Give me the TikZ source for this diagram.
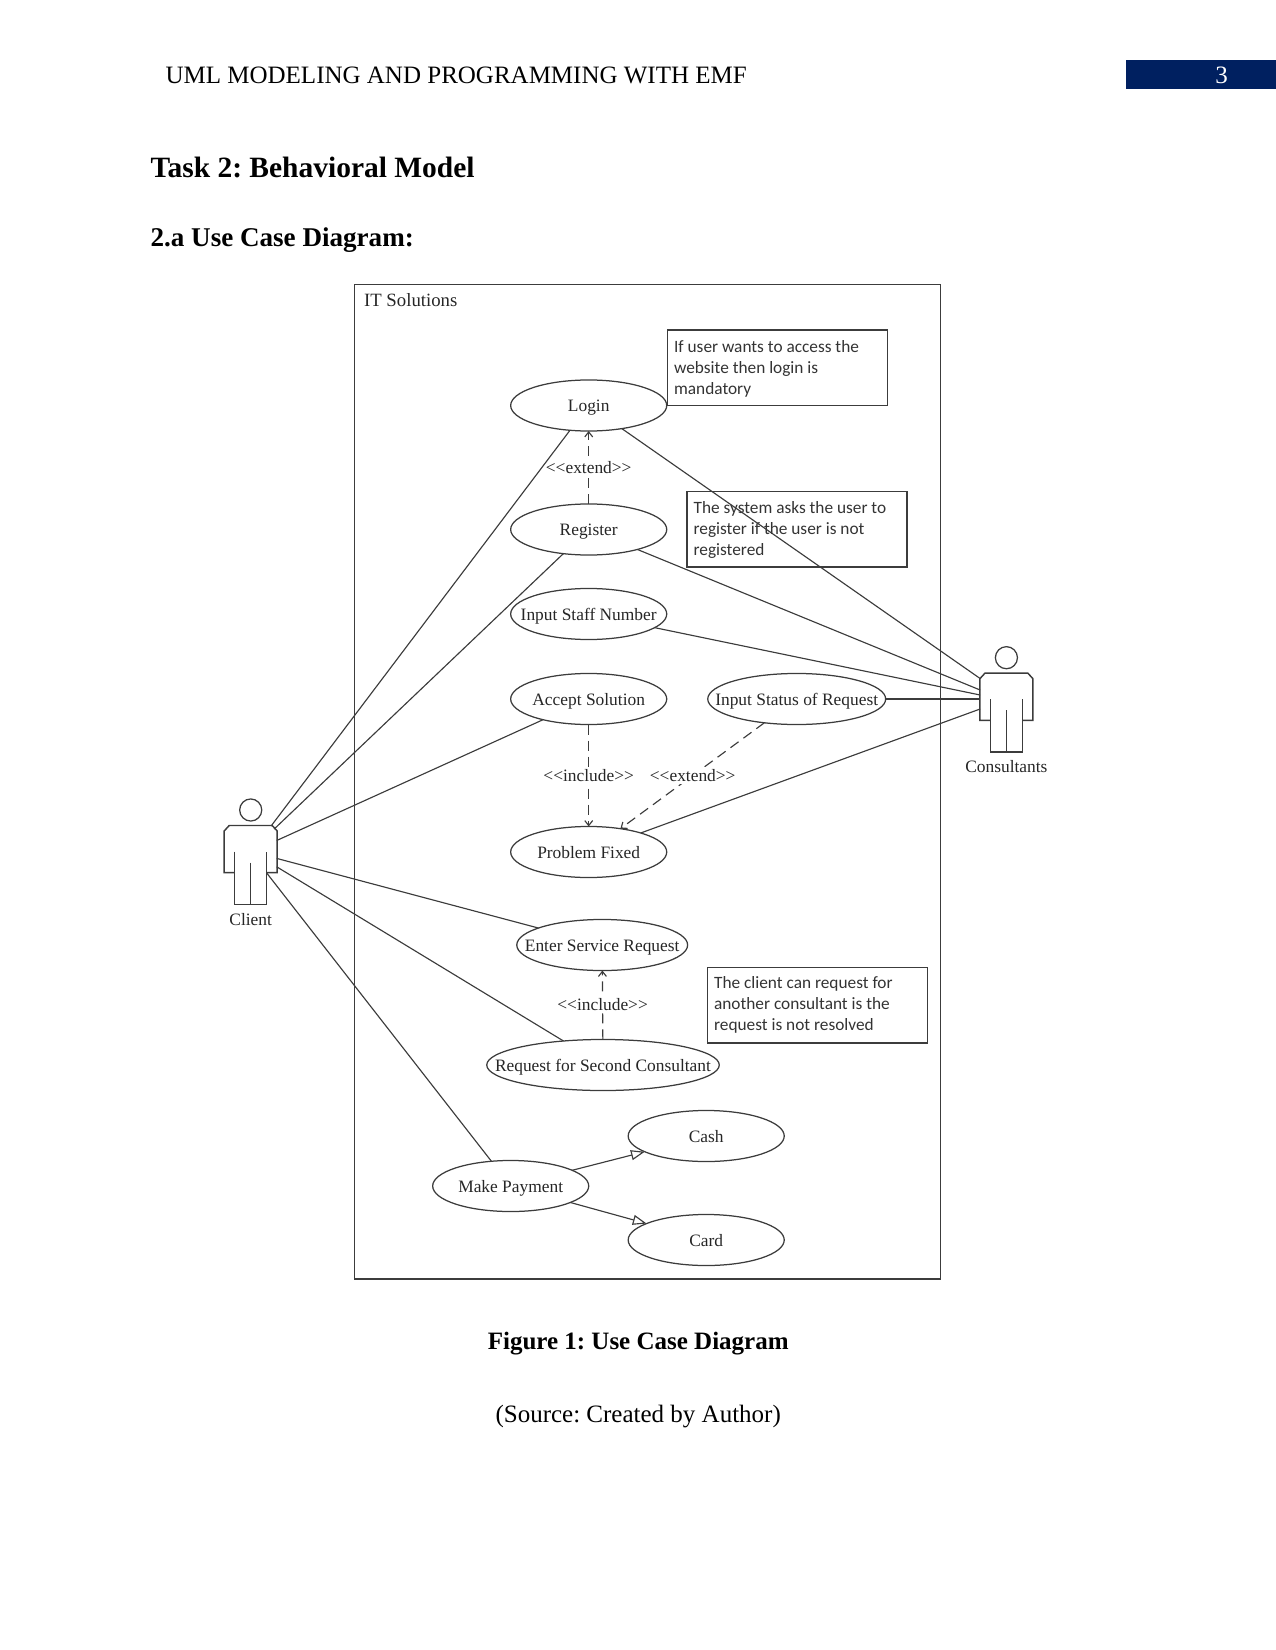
\documentclass[tikz,border=0pt]{standalone}
\usepackage{fontspec}
\setmainfont{Liberation Serif}
\newfontfamily\notefont{Carlito}
\usetikzlibrary{arrows.meta,shapes.geometric}
\frenchspacing

\definecolor{umlgray}{HTML}{3C3C3C}
\definecolor{bannerblue}{HTML}{002060}

\tikzset{
	usecase/.style={ellipse,draw=umlgray,line width=.6pt,inner sep=0pt,outer sep=0pt,minimum width=74.9pt,minimum height=24.5pt,text height=5.8pt,text depth=0pt,font=\fontsize{8.35}{10}\selectfont,text=black!85},
	note/.style={rectangle,draw=umlgray,line width=.6pt,inner sep=0pt,outer sep=0pt,minimum width=105.6pt,minimum height=36.2pt},
	notetext/.style={anchor=north west,align=left,inner sep=0pt,font=\notefont\fontsize{8.3}{10}\selectfont,text=black!80},
	assoc/.style={umlgray,line width=.55pt},
	dep/.style={umlgray,line width=.55pt,dash pattern=on 4.8pt off 2.9pt,->,>={Straight Barb[length=2.4pt,width=3.8pt]}},
	gen/.style={umlgray,line width=.55pt,-{Triangle[open,length=6.6pt,width=4.8pt,fill=white]}},
	stereo/.style={fill=white,inner xsep=0pt,inner ysep=1pt,font=\fontsize{8.35}{10}\selectfont,text=black!85},
	actorlabel/.style={font=\fontsize{8.35}{10}\selectfont,text=black!85},
	actorline/.style={umlgray,line width=.7pt}
}

%text of a use case must not widen its ellipse
\newcommand{\uclabel}[1]{\makebox[0pt]{#1}}

%stick figure, head centre is the origin of the scope
\newcommand{\actorfig}[3]{
	\begin{scope}[shift={(#2,#3)}]
		\node[circle,draw=umlgray,line width=.6pt,inner sep=0pt,minimum size=10.6pt](#1) at (0,0){};
		\draw[actorline](-16,62.7)--(-26.5,62.7)--(-26.5,21)--(-21.5,15.5)--(21.5,15.5)--(26.5,21)--(26.5,62.7)--(16,62.7);
		\draw[actorline](-16,41.7)--(-16,94.3)--(16,94.3)--(16,41.7);
		\draw[actorline](0,52.7)--(0,94.3);
	\end{scope}
}

\begin{document}
\begin{tikzpicture}[x=.48pt,y=-.48pt]
\useasboundingbox (-.7,0) rectangle (1274.3,1650);

%page header
\fill[bannerblue](1125,60.5) rectangle (1275,89.5);
\node[text=white,font=\fontsize{12}{14}\selectfont](pagenum) at (1221,75){3};
\node[anchor=west,inner sep=0pt,font=\fontsize{12}{14}\selectfont](runhead) at (164.5,75){UML MODELING AND PROGRAMMING WITH EMF};
\node[anchor=west,inner sep=0pt,font=\bfseries\fontsize{14.15}{17}\selectfont](tasktitle) at (149.5,167.5){Task 2: Behavioral Model};
\node[anchor=west,inner sep=0pt,font=\bfseries\fontsize{13}{16}\selectfont](subtitle) at (149.5,240){2.a Use Case Diagram:};

%system frame
\draw[umlgray,line width=.6pt](353.5,284.5) rectangle (940,1279);
\node[anchor=west,inner sep=0pt,font=\fontsize{9}{10}\selectfont,text=black!85](system) at (363,300){IT Solutions};

%use cases
\node[usecase](login) at (588,405.5){\uclabel{Login}};
\node[usecase](register) at (588,529.5){\uclabel{Register}};
\node[usecase](staffnum) at (588,614){\uclabel{Input Staff Number}};
\node[usecase](accept) at (588,699){\uclabel{Accept Solution}};
\node[usecase,minimum width=85.4pt](status) at (796,699){\uclabel{Input Status of Request}};
\node[usecase](fixed) at (588,852){\uclabel{Problem Fixed}};
\node[usecase,minimum width=82pt](enter) at (601.5,945){\uclabel{Enter Service Request}};
\node[usecase,minimum width=111.6pt](second) at (602.3,1065){\uclabel{Request for Second Consultant}};
\node[usecase](payment) at (510,1186){\uclabel{Make Payment}};
\node[usecase](cash) at (705.5,1136){\uclabel{Cash}};
\node[usecase](card) at (705.5,1240){\uclabel{Card}};

%notes
\node[note](notelogin) at (776.7,367.8){};
\node[notetext] at (673,340){If user wants to access the\\website then login is\\mandatory};
\node[note](noteregister) at (796.3,529.2){};
\node[notetext] at (692.5,501){The system asks the user to\\register if the user is not\\registered};
\node[note](noteclient) at (817,1005.3){};
\node[notetext] at (713,976.5){The client can request for\\another consultant is the\\request is not resolved};

%actors
\actorfig{client}{250}{810}
\node[actorlabel](clientlabel) at (250,920){Client};
\actorfig{consultants}{1005.7}{657.7}
\node[actorlabel](consultantslabel) at (1005.7,766.7){Consultants};

%draw dependencies
\draw[dep](register)--node[stereo](extendlogin){<{}<extend>{}>}(login);
\draw[dep](accept)--node[stereo](includefixed){<{}<include>{}>}(fixed);
\draw[dep](second)--node[stereo](includeenter){<{}<include>{}>}(enter);
\draw[dep](status)--(fixed);
\node[stereo](extendfixed) at (692,775.5){<{}<extend>{}>};

%draw associations
\foreach \uc/\ex/\ey in {login/270.4/826,register/273.5/829,accept/276/840.5,enter/276/858.4,second/276/866.8,payment/266/873}
{
	\coordinate (cl\uc) at (\ex,\ey);
	\draw[assoc](cl\uc)--(\uc);
}
\foreach \uc/\ey in {login/678.5,register/690,staffnum/695,status/699,fixed/709}
{
	\coordinate (co\uc) at (979.4,\ey);
	\draw[assoc](\uc)--(co\uc);
}

%add generalizations
\draw[gen](payment)--(cash);
\draw[gen](payment)--(card);

%figure caption
\node[font=\bfseries\fontsize{12}{14}\selectfont](caption) at (637.5,1344){Figure 1: Use Case Diagram};
\node[font=\fontsize{12}{14}\selectfont](source) at (637.5,1417){(Source: Created by Author)};
\end{tikzpicture}
\end{document}
